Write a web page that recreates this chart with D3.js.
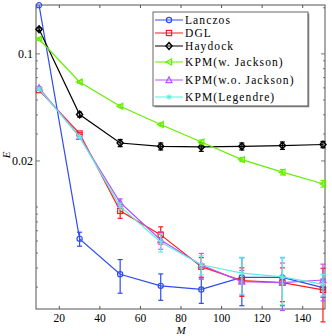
<!DOCTYPE html>
<html>
<head>
<meta charset="utf-8">
<script src="https://cdn.jsdelivr.net/npm/d3@7"></script>
<style>
  body { margin: 0; background: #fff; }
  text { font-family: "Liberation Serif", "DejaVu Serif", serif; }
</style>
</head>
<body>
<div id="chart"></div>
<script>
// data
var M = [10, 30, 50, 70, 90, 110, 130, 150];
var names = ["Lanczos", "DGL", "Haydock", "KPM(w. Jackson)", "KPM(w.o. Jackson)", "KPM(Legendre)"];

var lanczos     = [0.208, 0.0062, 0.00364, 0.00306, 0.0029, 0.00347, 0.00347, 0.00298];
var lanczosErr  = [0, 0.00065, 0.0009, 0.0006, 0.00055, 0.0012, 0.0012, 0.0004];
var dgl         = [0.058, 0.0302, 0.00944, 0.00658, 0.00408, 0.00331, 0.00321, 0.00288];
var dglErr      = [0, 0.0004, 0.001, 0.00085, 0.0006, 0.0007, 0.0008, 0.0011];
var haydock     = [0.145, 0.0402, 0.0262, 0.0249, 0.0247, 0.0249, 0.0252, 0.0256];
var haydockErr  = [0.003, 0.0015, 0.0014, 0.0013, 0.0016, 0.0013, 0.0014, 0.0012];
var kpmJ        = [0.125, 0.0656, 0.0455, 0.0346, 0.0266, 0.0204, 0.0169, 0.0142];
var kpmJErr     = [0.002, 0.0012, 0.0009, 0.0007, 0.0008, 0.0006, 0.0007, 0.0007];
var kpmNoJ      = [0.060, 0.0287, 0.0107, 0.0061, 0.00418, 0.00326, 0.00321, 0.00334];
var kpmNoJErr   = [0.001, 0.0005, 0.0006, 0.0008, 0.0008, 0.0006, 0.0011, 0.0009];
var legendre    = [0.059, 0.0287, 0.0101, 0.00589, 0.0042, 0.0037, 0.0035, 0.00313];
var legendreErr = [0.001, 0.0005, 0.0005, 0.0008, 0.0006, 0.001, 0.0012, 0.0005];

var xTicks = [20, 40, 60, 80, 100, 120, 140];
var yTicks = [0.02, 0.1];

var series = [
  {name: names[0], v: lanczos,  e: lanczosErr,  color: "#2f4cf2", sym: "circle"},
  {name: names[1], v: dgl,      e: dglErr,      color: "#ff1a1a", sym: "square"},
  {name: names[2], v: haydock,  e: haydockErr,  color: "#000000", sym: "diamond"},
  {name: names[3], v: kpmJ,     e: kpmJErr,     color: "#66ee00", sym: "triLeft"},
  {name: names[4], v: kpmNoJ,   e: kpmNoJErr,   color: "#b455ff", sym: "triUp"},
  {name: names[5], v: legendre, e: legendreErr, color: "#5eeedd", sym: "star"}
];

// Set the dimensions and margins
var margin = {top: 5, right: 7, bottom: 27, left: 36},
    width = 332 - margin.left - margin.right,
    height = 336 - margin.top - margin.bottom;

var svg = d3.select("#chart")
  .append("svg")
    .attr("width", 332)
    .attr("height", 336)
  .append("g")
    .attr("transform", "translate(" + margin.left + "," + margin.top + ")");

var x = d3.scaleLinear().domain([8.5, 151]).range([0, width]);
var y = d3.scaleLog().domain([0.00216, 0.2085]).range([height, 0]);

var axisColor = "#555";

// box
svg.append("rect")
  .attr("width", width).attr("height", height)
  .attr("fill", "none").attr("stroke", axisColor).attr("stroke-width", 1);

// x ticks (bottom and top, inward)
xTicks.forEach(function(t) {
  svg.append("line").attr("x1", x(t)).attr("x2", x(t)).attr("y1", height).attr("y2", height - 3)
    .attr("stroke", axisColor);
  svg.append("line").attr("x1", x(t)).attr("x2", x(t)).attr("y1", 0).attr("y2", 3)
    .attr("stroke", axisColor);
  svg.append("text").attr("x", x(t)).attr("y", height + 12.5)
    .attr("text-anchor", "middle").attr("font-size", 11.5).text(t);
});

// y minor ticks from the log scale
y.ticks().forEach(function(t) {
  var len = yTicks.indexOf(+t.toPrecision(3)) >= 0 ? 4 : 2;
  svg.append("line").attr("x1", 0).attr("x2", len).attr("y1", y(t)).attr("y2", y(t))
    .attr("stroke", axisColor).attr("stroke-width", 0.8);
  svg.append("line").attr("x1", width).attr("x2", width - len).attr("y1", y(t)).attr("y2", y(t))
    .attr("stroke", axisColor).attr("stroke-width", 0.8);
});
yTicks.forEach(function(t) {
  svg.append("text").attr("x", -3).attr("y", y(t) + 4)
    .attr("text-anchor", "end").attr("font-size", 12).text(t);
});

// axis titles
svg.append("text").attr("x", x(80)).attr("y", height + 24.5)
  .attr("text-anchor", "middle").attr("font-size", 11).attr("font-style", "italic").text("M");
svg.append("text").attr("transform", "translate(-26," + (y(0.02) - 6) + ")rotate(-90)")
  .attr("text-anchor", "middle").attr("font-size", 11).attr("font-style", "italic").text("E");

function marker(g, sym, cx, cy, color) {
  var s = 2.6;
  if (sym === "circle") {
    g.append("circle").attr("cx", cx).attr("cy", cy).attr("r", s)
      .attr("fill", "none").attr("stroke", color).attr("stroke-width", 1.2);
  } else if (sym === "square") {
    g.append("rect").attr("x", cx - s).attr("y", cy - s).attr("width", 2 * s).attr("height", 2 * s)
      .attr("fill", "none").attr("stroke", color).attr("stroke-width", 1.2);
  } else if (sym === "diamond") {
    g.append("path").attr("d", "M" + cx + "," + (cy - 3.4) + "L" + (cx + 3) + "," + cy + "L" + cx + "," + (cy + 3.4) + "L" + (cx - 3) + "," + cy + "Z")
      .attr("fill", "none").attr("stroke", color).attr("stroke-width", 1.5);
  } else if (sym === "triLeft") {
    g.append("path").attr("d", "M" + (cx - 3.2) + "," + cy + "L" + (cx + 2.6) + "," + (cy - 3) + "L" + (cx + 2.6) + "," + (cy + 3) + "Z")
      .attr("fill", "none").attr("stroke", color).attr("stroke-width", 1.2);
  } else if (sym === "triUp") {
    g.append("path").attr("d", "M" + cx + "," + (cy - 3.2) + "L" + (cx + 3) + "," + (cy + 2.6) + "L" + (cx - 3) + "," + (cy + 2.6) + "Z")
      .attr("fill", "none").attr("stroke", color).attr("stroke-width", 1.2);
  } else {
    g.append("path").attr("d", d3.symbol().type(d3.symbolAsterisk).size(22)())
      .attr("transform", "translate(" + cx + "," + cy + ")")
      .attr("fill", "none").attr("stroke", color).attr("stroke-width", 1.1);
  }
}

var line = d3.line()
  .x(function(d) { return x(d[0]); })
  .y(function(d) { return y(d[1]); });

series.forEach(function(s) {
  var g = svg.append("g");
  var pts = M.map(function(m, i) { return [m, s.v[i], s.e[i]]; });
  g.append("path").datum(pts).attr("d", line)
    .attr("fill", "none").attr("stroke", s.color).attr("stroke-width", 1.2);
  pts.forEach(function(p) {
    if (p[2] > 0) {
      var y1 = y(p[1] + p[2]), y2 = y(Math.max(p[1] - p[2], 1e-4));
      g.append("line").attr("x1", x(p[0])).attr("x2", x(p[0])).attr("y1", y1).attr("y2", y2)
        .attr("stroke", s.color).attr("stroke-width", 1.2);
      [y1, y2].forEach(function(yy) {
        g.append("line").attr("x1", x(p[0]) - 2.5).attr("x2", x(p[0]) + 2.5).attr("y1", yy).attr("y2", yy)
          .attr("stroke", s.color).attr("stroke-width", 1.2);
      });
    }
    marker(g, s.sym, x(p[0]), y(p[1]), s.color);
  });
});

// legend
var lg = svg.append("g").attr("transform", "translate(" + (153 - margin.left) + "," + (12 - margin.top) + ")");
lg.append("rect").attr("width", 155).attr("height", 94)
  .attr("fill", "#fff").attr("stroke", "#666").attr("stroke-width", 1);
lg.append("path").attr("d", "M155,1V94H1").attr("fill", "none").attr("stroke", "#777").attr("stroke-width", 1.5)
  .attr("transform", "translate(0.5,0.5)");
var rowY = [8, 21, 34, 50, 68, 85];
series.forEach(function(s, i) {
  var yy = rowY[i];
  lg.append("line").attr("x1", 2).attr("x2", 30).attr("y1", yy).attr("y2", yy)
    .attr("stroke", s.color).attr("stroke-width", 1);
  marker(lg, s.sym, 16, yy, s.color);
  lg.append("text").attr("x", 32).attr("y", yy + 4).attr("font-size", 11.5)
    .attr("letter-spacing", "1.1px").text(s.name);
});
</script>
</body>
</html>
